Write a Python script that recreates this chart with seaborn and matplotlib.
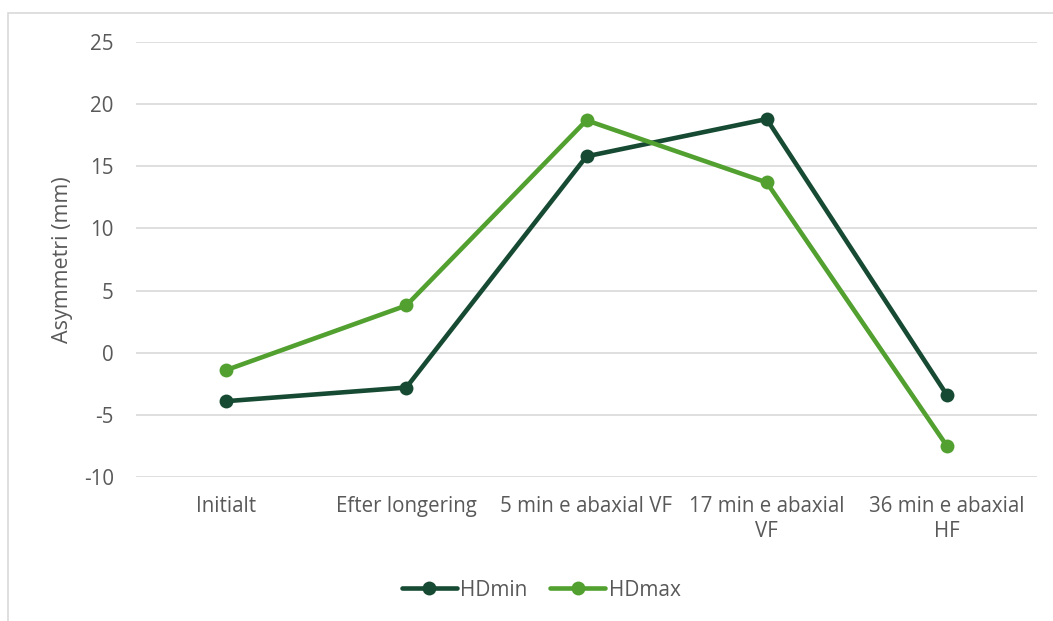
import pandas as pd
import seaborn as sns
import matplotlib.pyplot as plt
from matplotlib.patches import Rectangle

categories = ["Initialt", "Efter longering", "5 min e abaxial VF",
              "17 min e abaxial\nVF", "36 min e abaxial\nHF"]
hd_min = [-3.9, -2.8, 15.8, 18.8, -3.4]
hd_max = [-1.4, 3.8, 18.7, 13.7, -7.5]

df = pd.DataFrame({
    "x": list(range(len(categories))) * 2,
    "value": hd_min + hd_max,
    "serie": ["HDmin"] * len(hd_min) + ["HDmax"] * len(hd_max),
})

sns.set_style("white")
plt.rcParams["font.family"] = ["Open Sans", "DejaVu Sans"]
plt.rcParams["axes.unicode_minus"] = False

fig = plt.figure(figsize=(10.53, 6.21), dpi=100)
ax = fig.add_axes([136 / 1053, 1 - 477 / 621, 901 / 1053, 435 / 621])

# chart frame like excel
fig.patches.append(Rectangle((8 / 1053, -0.1), 1.2, 1 - 13 / 621 + 0.1,
                             transform=fig.transFigure, fill=False,
                             edgecolor="#d9d9d9", linewidth=1.2))

palette = {"HDmin": "#174a33", "HDmax": "#52a02f"}
sns.lineplot(data=df, x="x", y="value", hue="serie", palette=palette,
             marker="o", markersize=10, markeredgewidth=0, linewidth=3.3,
             ax=ax, legend=True)

ax.set_xlim(-0.5, 4.5)
ax.set_ylim(-10, 25)
ax.set_yticks(range(-10, 26, 5))
ax.set_xticks(range(len(categories)))
ax.set_xticklabels(categories, multialignment="center")
ax.tick_params(axis="both", length=0, labelsize=14.8, colors="#595959")
ax.tick_params(axis="y", pad=16)
ax.tick_params(axis="x", pad=14)
ax.grid(axis="y", color="#d9d9d9", linewidth=1.2)
ax.set_axisbelow(True)
for s in ax.spines.values():
    s.set_visible(False)

ax.set_xlabel("")
ax.set_ylabel("Asymmetri (mm)", fontsize=15.5, color="#595959", labelpad=8)

handles, labels = ax.get_legend_handles_labels()
ax.legend(handles, labels, loc="center", bbox_to_anchor=(541 / 1053, 1 - 590 / 621),
          bbox_transform=fig.transFigure, ncol=2, frameon=False,
          fontsize=15, labelcolor="#595959", handlelength=2.65,
          handletextpad=0.15, columnspacing=1.1)

plt.savefig("out.png", dpi=100)
